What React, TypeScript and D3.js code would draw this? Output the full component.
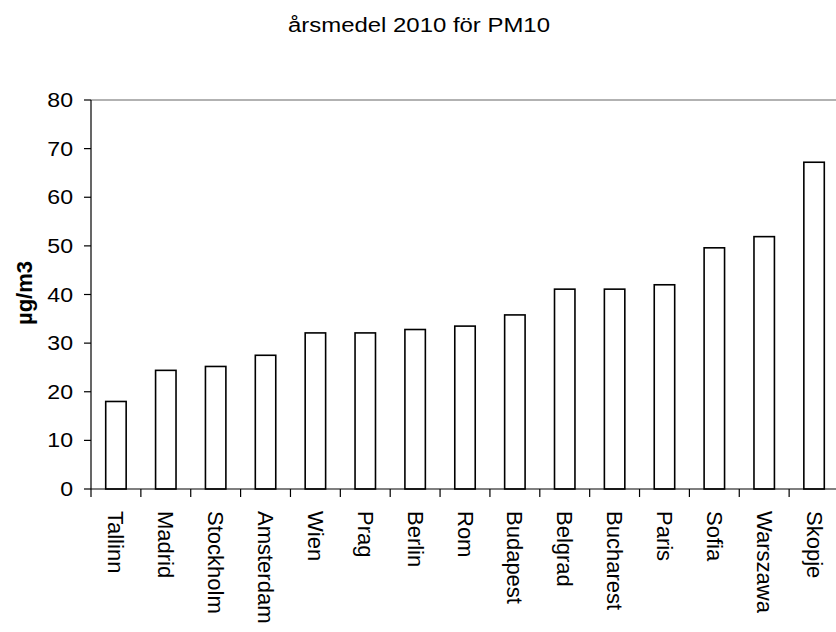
import React from "react";
import * as d3 from "d3";

const cities = [
  "Tallinn", "Madrid", "Stockholm", "Amsterdam", "Wien", "Prag", "Berlin", "Rom",
  "Budapest", "Belgrad", "Bucharest", "Paris", "Sofia", "Warszawa", "Skopje",
];
const pm10 = [18, 24.4, 25.2, 27.5, 32.1, 32.1, 32.8, 33.5, 35.8, 41.1, 41.1, 42, 49.6, 51.9, 67.2];
const yTicks = [0, 10, 20, 30, 40, 50, 60, 70, 80];

const W = 836;
const H = 632;
const margin = { top: 100, right: -3, bottom: 143, left: 91 };
const font = "'Liberation Sans', Arial, sans-serif";

export default function App() {
  const x = d3
    .scaleBand<string>()
    .domain(cities)
    .range([margin.left, W - margin.right])
    .paddingInner(0)
    .paddingOuter(0);
  const y = d3.scaleLinear().domain([0, 80]).range([H - margin.bottom, margin.top]);
  const bw = x.bandwidth() * 0.41;
  const y0 = y(0);

  return (
    <svg
      width={W}
      height={H}
      style={{ position: "absolute", left: 0, top: 0, background: "#fff" }}
      fontFamily={font}
    >
      <rect x={0} y={0} width={W} height={H} fill="#fff" />
      <text x={419} y={32} textAnchor="middle" fontSize={20} fill="#000" textLength={262} lengthAdjust="spacingAndGlyphs">
        årsmedel 2010 för PM10
      </text>

      {/* plot area top border */}
      <line x1={margin.left} x2={W} y1={y(80)} y2={y(80)} stroke="#999" strokeWidth={1.5} />

      {/* bars */}
      {cities.map((c, i) => {
        const cx = (x(c) as number) + x.bandwidth() / 2;
        return (
          <rect
            key={c}
            x={cx - bw / 2}
            y={y(pm10[i])}
            width={bw}
            height={y0 - y(pm10[i])}
            fill="#fff"
            stroke="#000"
            strokeWidth={1.6}
          />
        );
      })}

      {/* y axis */}
      <line x1={margin.left} x2={margin.left} y1={y(80)} y2={y0} stroke="#000" strokeWidth={1.2} />
      {yTicks.map((t) => (
        <g key={t}>
          <line x1={margin.left - 7} x2={margin.left} y1={y(t)} y2={y(t)} stroke="#000" strokeWidth={1.2} />
          <text
            x={73}
            y={y(t)}
            textAnchor="end"
            dominantBaseline="central"
            fontSize={21}
            fill="#000"
            transform={`translate(73,0) scale(1.1,1) translate(-73,0)`}
          >
            {t}
          </text>
        </g>
      ))}
      <text
        transform={`translate(24,293) rotate(-90)`}
        textAnchor="middle"
        dominantBaseline="central"
        fontSize={22}
        fontWeight="bold"
        fill="#000"
      >
        µg/m3
      </text>

      {/* x axis */}
      <line x1={margin.left} x2={W} y1={y0} y2={y0} stroke="#000" strokeWidth={1.2} />
      {cities.map((c) => (
        <line
          key={"t" + c}
          x1={x(c) as number}
          x2={x(c) as number}
          y1={y0}
          y2={y0 + 8}
          stroke="#000"
          strokeWidth={1.2}
        />
      ))}
      {cities.map((c) => {
        const cx = (x(c) as number) + x.bandwidth() / 2;
        return (
          <text
            key={"l" + c}
            transform={`translate(${cx},${y0 + 22}) rotate(90)`}
            textAnchor="start"
            dominantBaseline="central"
            fontSize={22}
            fill="#000"
          >
            {c}
          </text>
        );
      })}
    </svg>
  );
}
